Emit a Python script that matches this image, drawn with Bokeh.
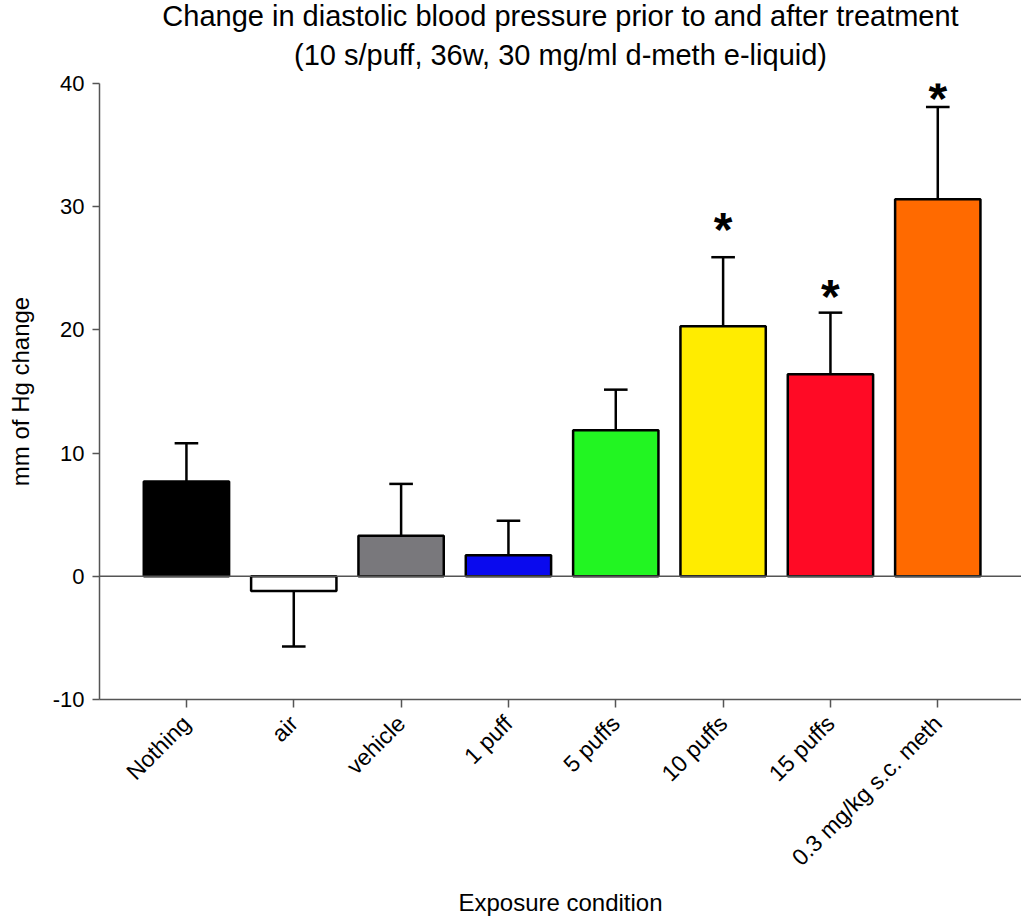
import math
from bokeh.plotting import figure
from bokeh.models import Range1d, FixedTicker, Span, Title, Label, ColumnDataSource
from bokeh.embed import file_html
from bokeh.resources import INLINE

categories = ["Nothing", "air", "vehicle", "1 puff", "5 puffs", "10 puffs", "15 puffs", "0.3 mg/kg s.c. meth"]
means = [7.7, -1.2, 3.3, 1.7, 11.85, 20.3, 16.4, 30.6]
errors = [3.1, 4.5, 4.2, 2.8, 3.3, 5.6, 5.0, 7.5]
colors = ["#000000", "#ffffff", "#79787c", "#0a0aee", "#22f522", "#ffec00", "#ff0a25", "#ff6a00"]
significant = [False, False, False, False, False, True, True, True]
y_ticks = [-10, 0, 10, 20, 30, 40]
title_lines = ["Change in diastolic blood pressure prior to and after treatment",
               "(10 s/puff, 36w, 30 mg/ml d-meth e-liquid)"]
# gap (px) between the top of each error bar and its significance star
star_gaps_px = [0, 0, 0, 0, 0, 34, 22, 14]

FONT = "Liberation Sans"
xs = list(range(len(categories)))

p = figure(width=1021, height=920, output_backend="svg", toolbar_location=None,
           x_range=Range1d(-0.81, 7.78), y_range=Range1d(-10, 40),
           min_border_left=99, min_border_right=0, min_border_top=83, min_border_bottom=221)
p.outline_line_color = None
p.xgrid.visible = False
p.ygrid.visible = False
p.background_fill_color = "white"

# bars
src = ColumnDataSource(dict(x=xs, top=means, color=colors))
p.vbar(x="x", top="top", bottom=0, width=0.795, fill_color="color", line_color="black",
       line_width=2.5, source=src)

# error bars (one-sided, in the direction of the mean)
ends = [m + e if m >= 0 else m - e for m, e in zip(means, errors)]
p.segment(x0=xs, y0=means, x1=xs, y1=ends, line_color="black", line_width=2.5)
cap = 0.11
p.segment(x0=[x - cap for x in xs], y0=ends, x1=[x + cap for x in xs], y1=ends,
          line_color="black", line_width=2.5)

# zero line
p.add_layout(Span(location=0, dimension="width", line_color="#555555", line_width=1.5))

# significance stars
for x, e, s, g in zip(xs, ends, significant, star_gaps_px):
    if s:
        p.add_layout(Label(x=x, y=e, text="*", text_align="center", text_baseline="middle",
                           y_offset=g - 6, text_font=FONT, text_font_size="48px",
                           text_font_style="bold", text_color="black"))

# axes
for ax in (p.xaxis[0], p.yaxis[0]):
    ax.axis_line_color = "#555555"
    ax.axis_line_width = 1.5
    ax.major_tick_line_color = "#555555"
    ax.major_tick_line_width = 1.5
    ax.minor_tick_line_color = None
    ax.major_tick_in = 0
    ax.major_label_text_font = FONT
    ax.major_label_text_color = "black"
    ax.axis_label_text_font = FONT
    ax.axis_label_text_font_size = "24px"
    ax.axis_label_text_font_style = "normal"
    ax.axis_label_text_color = "black"

p.yaxis.ticker = FixedTicker(ticks=y_ticks)
p.yaxis.major_label_overrides = {t: str(t) for t in y_ticks}
p.yaxis.major_label_text_font_size = "22px"
p.yaxis.major_tick_out = 7
p.yaxis.major_label_standoff = 8
p.yaxis.axis_label = "mm of Hg change"
p.yaxis.axis_label_standoff = 16

p.xaxis.ticker = FixedTicker(ticks=xs)
p.xaxis.major_label_overrides = {i: c for i, c in enumerate(categories)}
p.xaxis.major_label_text_font_size = "23px"
p.xaxis.major_tick_out = 8
p.xaxis.major_label_orientation = math.pi / 4
p.xaxis.major_label_standoff = 12
p.xaxis.axis_label = "Exposure condition"
p.xaxis.axis_label_standoff = 6

# title (two centered lines; the one added last sits on top)
p.add_layout(Title(text=title_lines[1], align="center", text_font=FONT, text_font_size="29px",
                   text_font_style="normal", text_color="black", standoff=26), "above")
p.add_layout(Title(text=title_lines[0], align="center", text_font=FONT, text_font_size="29px",
                   text_font_style="normal", text_color="black", standoff=-16), "above")

open("out.html", "w").write(file_html(p, INLINE))
